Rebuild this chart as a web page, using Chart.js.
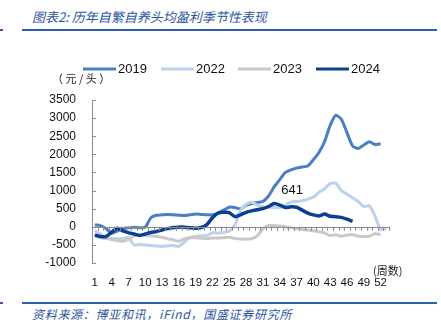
<!DOCTYPE html>
<html>
<head>
<meta charset="utf-8">
<script src="https://cdn.jsdelivr.net/npm/chart.js@4/dist/chart.umd.min.js"></script>
<style>
  body { margin: 0; background: #fff; }
  #wrap { position: relative; width: 441px; height: 335px; overflow: hidden; }
  #wrap canvas { position: absolute; left: 0; top: 0; }
  .cap { position: absolute; color: #2a55a3; font-style: italic; white-space: nowrap;
         font-family: "Noto Sans CJK SC", sans-serif; }
  #titel { left: 32px; top: 7px; font-size: 13px; }
  #kaynak { left: 32px; top: 305px; font-size: 12px; letter-spacing: 0.7px; }
  .cizgi { position: absolute; height: 2px; background: #2e5fae; }
</style>
</head>
<body>
<div id="wrap">
  <div class="cap" id="titel">图表2:&nbsp;历年自繁自养头均盈利季节性表现</div>
  <div class="cizgi" style="left:0;top:29px;width:3px"></div>
  <div class="cizgi" style="left:22px;top:29px;width:415px"></div>
  <div class="cizgi" style="left:0;top:302px;width:3px"></div>
  <div class="cizgi" style="left:22px;top:302px;width:415px"></div>
  <div class="cap" id="kaynak">资料来源：博亚和讯，iFind，国盛证券研究所</div>
  <canvas id="grafik" width="441" height="335"></canvas>
</div>
<script>
// hafta etiketleri (1..53)
const haftalar = [];
for (let i = 1; i <= 53; i++) haftalar.push(String(i));

const seri2019 = [50, 30, -50, -180, -120, -50, -30, -10, -30, -10,
  250, 320, 330, 340, 330, 320, 310, 330, 350, 340,
  330, 330, 380, 460, 540, 530, 490, 600, 640, 670,
  700, 850, 1100, 1300, 1500, 1570, 1620, 1650, 1680, 1850,
  2050, 2350, 2800, 3080, 2970, 2600, 2230, 2160, 2260, 2350,
  2270, 2290];

const seri2022 = [-100, -200, -300, -320, -330, -320, -300, -500, -490, -500,
  -520, -530, -540, -530, -520, -540, -420, -300, -270, -250,
  -240, -170, -170, -160, -120, 50, 450, 620, 680, 600,
  550, 540, 530, 530, 600, 680, 700, 720, 760, 820,
  950, 1050, 1200, 1200, 1000, 900, 800, 700, 560, 580,
  300, -80, -40];

const seri2023 = [-200, -300, -320, -350, -380, -400, -350, -250, -230, -240,
  -250, -260, -290, -330, -360, -400, -330, -300, -300, -320,
  -330, -310, -310, -300, -290, -320, -340, -340, -330, -250,
  -60, 40, 30, 20, 0, -30, -50, -70, -90, -110,
  -140, -170, -240, -220, -260, -230, -220, -260, -270, -260,
  -190, -210];

const seri2024 = [-230, -270, -270, -150, -40, -110, -160, -200, -240, -200,
  -160, -130, -90, -50, -20, -10, -10, -30, -40, -20,
  60, 250, 380, 400, 390, 280, 330, 400, 440, 470,
  500, 560, 641, 600, 530, 550, 540, 460, 380, 330,
  300, 350, 290, 280, 260, 210, 150];

const yilAdlari = ["2019", "2022", "2023", "2024"];
const renkler = ["#4a7fc4", "#bdd1ea", "#c9c9c9", "#0b3f91"];
const kalinliklar = [3, 3, 3, 3.5];
const etiketHafta = 33; // 641 değeri

const yaziFont = "'Liberation Sans', Arial, sans-serif";

// sıfır çizgisi, eksen çentikleri ve ekstra yazılar
const ekstraCizim = {
  id: "ekstraCizim",
  afterDatasetsDraw(chart) {
    const ctx = chart.ctx;
    const x = chart.scales.x, y = chart.scales.y;
    const alan = chart.chartArea;
    const y0 = y.getPixelForValue(0);
    ctx.save();
    ctx.strokeStyle = "#8c8c8c";
    ctx.lineWidth = 1;
    ctx.beginPath();
    ctx.moveTo(alan.left, Math.round(y0) + 0.5);
    ctx.lineTo(alan.right, Math.round(y0) + 0.5);
    const adim = (alan.right - alan.left) / haftalar.length;
    for (let i = 1; i <= haftalar.length; i++) {
      const px = Math.round(alan.left + adim * i) + 0.5;
      ctx.moveTo(px, y0);
      ctx.lineTo(px, y0 + 4);
    }
    y.ticks.forEach(t => {
      const py = Math.round(y.getPixelForValue(t.value)) + 0.5;
      ctx.moveTo(alan.left, py);
      ctx.lineTo(alan.left + 4, py);
    });
    ctx.stroke();

    // 641 etiketi
    const nokta = chart.getDatasetMeta(3).data[etiketHafta - 1];
    ctx.fillStyle = "#111";
    ctx.font = "13px " + yaziFont;
    ctx.textAlign = "center";
    ctx.textBaseline = "middle";
    ctx.fillText(String(seri2024[etiketHafta - 1]), nokta.x + 18, nokta.y - 13);

    // birimler
    ctx.font = "11px 'Noto Sans CJK SC', sans-serif";
    ctx.fillStyle = "#222";
    ctx.textAlign = "left";
    ctx.fillText("（ 元 / 头 ）", 52, 79);
    ctx.font = "11px 'Noto Sans CJK SC', sans-serif";
    ctx.fillText("(周数)", 373, 271);
    ctx.restore();
  }
};

new Chart(document.getElementById("grafik"), {
  type: "line",
  data: {
    labels: haftalar,
    datasets: [seri2019, seri2022, seri2023, seri2024].map((d, i) => ({
      label: yilAdlari[i],
      data: d,
      borderColor: renkler[i],
      backgroundColor: renkler[i],
      borderWidth: kalinliklar[i],
      pointRadius: 0,
      tension: 0.2,
      order: 4 - i
    }))
  },
  options: {
    responsive: false,
    animation: false,
    layout: { padding: { top: 100, left: 0, right: 52, bottom: 47 } },
    plugins: {
      legend: { display: false },
      tooltip: { enabled: false }
    },
    scales: {
      x: {
        offset: true,
        grid: { display: false, drawTicks: false },
        border: { display: false },
        ticks: {
          autoSkip: false,
          maxRotation: 0,
          padding: 13,
          color: "#111",
          font: { family: yaziFont, size: 11.5 },
          callback: (v, i) => (i % 3 === 0 ? haftalar[i] : "")
        },
        afterFit: s => { s.height = 25; }
      },
      y: {
        min: -1000,
        max: 3500,
        grid: { display: false, drawTicks: false },
        border: { display: true, color: "#8c8c8c", width: 1 },
        ticks: {
          stepSize: 500,
          padding: 16,
          color: "#111",
          font: { family: yaziFont, size: 12 },
          callback: v => String(v)
        },
        afterFit: s => { s.width = 92; }
      }
    }
  },
  plugins: [ekstraCizim, {
    id: "efsane",
    afterDraw(chart) {
      // üstteki efsane
      const ctx = chart.ctx;
      const basla = [83, 161, 238, 316];
      ctx.save();
      ctx.font = "13px " + yaziFont;
      ctx.textBaseline = "middle";
      ctx.textAlign = "left";
      chart.data.datasets.forEach((ds, i) => {
        ctx.fillStyle = ds.borderColor;
        ctx.fillRect(basla[i], 67.5, 33, 3);
        ctx.fillStyle = "#111";
        ctx.fillText(ds.label, basla[i] + 35, 69);
      });
      ctx.restore();
    }
  }]
});
</script>
</body>
</html>
